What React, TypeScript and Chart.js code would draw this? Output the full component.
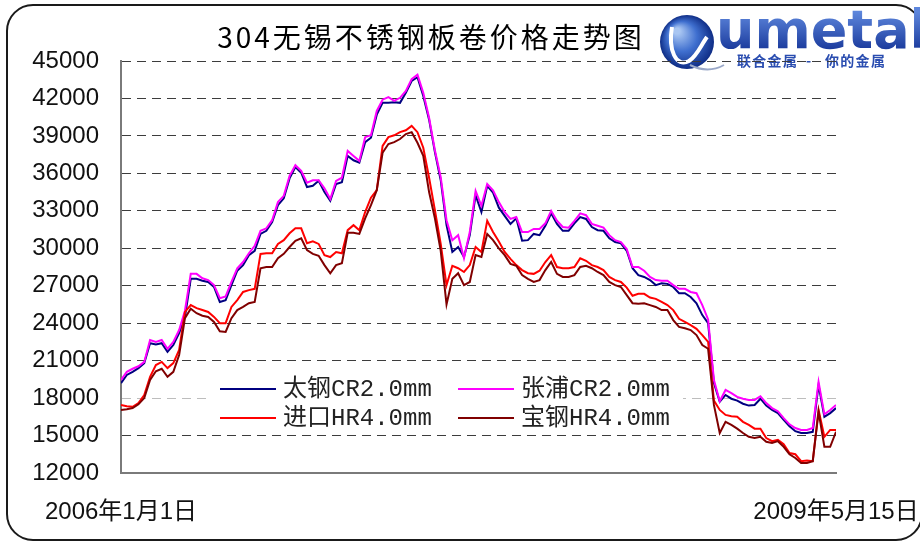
import React, { useEffect, useRef } from 'react';
import { Chart, registerables } from 'chart.js';

Chart.register(...registerables);

// x values: days since 2006-01-01 (sampled every 10 days, last = 2009-05-15)
const days = [
  0, 10, 20, 30, 40, 50, 60, 70, 80, 90, 100, 110, 120, 130, 140, 150, 160, 170, 180, 190,
  200, 210, 220, 230, 240, 250, 260, 270, 280, 290, 300, 310, 320, 330, 340, 350, 360, 370, 380, 390,
  400, 410, 420, 430, 440, 450, 460, 470, 480, 490, 500, 510, 520, 530, 540, 550, 560, 570, 580, 590,
  600, 610, 620, 630, 640, 650, 660, 670, 680, 690, 700, 710, 720, 730, 740, 750, 760, 770, 780, 790,
  800, 810, 820, 830, 840, 850, 860, 870, 880, 890, 900, 910, 920, 930, 940, 950, 960, 970, 980, 990,
  1000, 1010, 1020, 1030, 1040, 1050, 1060, 1070, 1080, 1090, 1100, 1110, 1120, 1130, 1140, 1150, 1160, 1170, 1180, 1190,
  1200, 1210, 1220, 1230,
];

const taigangCR = [
  19200, 19850, 20100, 20400, 20800, 22400, 22300, 22400, 21700, 22250,
  23200, 24500, 27550, 27550, 27400, 27300, 26900, 25700, 25850, 27050,
  28200, 28650, 29450, 29800, 31150, 31400, 32100, 33450, 34000, 35600,
  36500, 36050, 34900, 35000, 35400, 34500, 33800, 35150, 35300, 37400,
  37050, 36850, 38500, 38850, 40700, 41650, 41650, 41700, 41650, 42450,
  43400, 43700, 42200, 40300, 37700, 35450, 31850, 29700, 30100, 29300,
  31050, 34250, 32900, 35000, 34450, 33250, 32600, 31950, 32400, 30600,
  30650, 31150, 31050, 31800, 32800, 31950, 31400, 31400, 32000, 32500,
  32350, 31700, 31450, 31400, 30800, 30500, 30400, 29800, 28400, 27850,
  27700, 27450, 27050, 27200, 27150, 26900, 26400, 26400, 26100, 25600,
  24650, 24000, 19200, 17700, 18250, 17950, 17800, 17550, 17400, 17450,
  17950, 17400, 17050, 16800, 16250, 15750, 15350, 15200, 15200, 15300,
  19050, 16500, 16800, 17200,
];

const zhangpuCR = [
  19450, 20100, 20350, 20550, 20900, 22650, 22500, 22650, 21950, 22500,
  23450, 25000, 27950, 27950, 27600, 27450, 27050, 26000, 26150, 27300,
  28400, 28900, 29600, 30200, 31400, 31600, 32250, 33700, 34200, 35800,
  36650, 36200, 35250, 35450, 35450, 34800, 33950, 35400, 35650, 37800,
  37400, 37000, 38900, 39050, 41000, 41900, 42100, 41800, 42050, 42600,
  43550, 43900, 42450, 40450, 37850, 35700, 32250, 30650, 31050, 29200,
  31300, 34600, 33400, 35150, 34650, 33700, 32900, 32350, 32500, 31300,
  31300, 31550, 31550, 32000, 33000, 32200, 31700, 31650, 32200, 32800,
  32650, 31950, 31800, 31650, 31050, 30650, 30500, 29950, 28500, 28500,
  28200, 27700, 27450, 27400, 27400, 27050, 26750, 26750, 26500, 26400,
  25450, 24300, 19450, 17750, 18650, 18400, 18100, 17950, 17850, 17850,
  18150, 17600, 17200, 16950, 16400, 15900, 15600, 15450, 15450, 15600,
  19300, 16700, 17050, 17450,
];

const jinkouHR = [
  17450, 17350, 17300, 17600, 18250, 19700, 20650, 20900, 20400, 20800,
  21850, 24900, 25450, 25200, 25050, 24900, 24500, 24000, 24000, 25300,
  25850, 26500, 26650, 26750, 29550, 29600, 29600, 30350, 30650, 31200,
  31600, 31600, 30400, 30550, 30350, 29450, 29300, 29700, 29600, 31450,
  31850, 31450, 32900, 34050, 34650, 38200, 38900, 39050, 39300, 39450,
  39800, 39300, 38050, 35650, 33050, 30350, 27050, 28600, 28400, 28100,
  28650, 30100, 29700, 32200, 31300, 30550, 29700, 29150, 28650, 28250,
  28000, 27950, 28200, 28900, 29450, 28500, 28400, 28400, 28500, 29200,
  29000, 28650, 28500, 28250, 27700, 27450, 27300, 26850, 26200, 26350,
  26350, 26050, 25950, 25700, 25450, 25050, 24350, 24100, 23850, 23550,
  23050, 22500, 17800, 17050, 16650, 16550, 16500, 16100, 15850, 15550,
  15550, 14800, 14550, 14650, 14300, 13600, 13500, 12950, 13000, 12950,
  17050, 14900, 15450, 15450,
];

const baogangHR = [
  17050, 17100, 17200, 17500, 18000, 19450, 20150, 20350, 19700, 20100,
  21450, 24400, 25150, 24800, 24600, 24500, 24100, 23350, 23300, 24400,
  25050, 25300, 25600, 25700, 28400, 28500, 28500, 29200, 29550, 30100,
  30600, 30800, 29850, 29550, 29400, 28650, 28000, 28650, 28800, 31250,
  31250, 31150, 32400, 33450, 34650, 37650, 38350, 38500, 38750, 39150,
  39300, 38450, 37400, 34500, 32400, 29800, 25500, 27550, 28000, 27050,
  27300, 29450, 29300, 31150, 30650, 30000, 29450, 28750, 28600, 27850,
  27550, 27300, 27450, 28250, 28900, 27950, 27700, 27700, 27850, 28500,
  28600, 28400, 28100, 27850, 27300, 27050, 26900, 26250, 25600, 25550,
  25600, 25450, 25300, 25050, 25050, 24250, 23700, 23600, 23450, 23050,
  22250, 21950, 17450, 15200, 16100, 15850, 15550, 15200, 14900, 14800,
  14900, 14500, 14400, 14550, 14100, 13500, 13200, 12800, 12800, 12950,
  16900, 14100, 14100, 15300,
];

const seriesNames = ['太钢CR2.0mm', '张浦CR2.0mm', '进口HR4.0mm', '宝钢HR4.0mm'];
const seriesColors = ['#000080', '#FF00FF', '#FF0000', '#800000'];
const xTickDays = [0, 1230];
const xTickLabels = ['2006年1月1日', '2009年5月15日'];
const yMin = 12000;
const yMax = 45000;
const yStep = 3000;
const chartTitle = '304无锡不锈钢板卷价格走势图';

const decorPlugin = {
  id: 'decor',
  beforeDraw(chart: any) {
    const ctx = chart.ctx as CanvasRenderingContext2D;
    ctx.save();
    ctx.fillStyle = '#ffffff';
    ctx.fillRect(0, 0, chart.width, chart.height);
    // frame
    ctx.beginPath();
    (ctx as any).roundRect(7, 5, 915, 535, 26);
    ctx.lineWidth = 2;
    ctx.strokeStyle = '#1a1a1a';
    ctx.stroke();
    // title
    ctx.font = '28px "Noto Sans CJK SC"';
    (ctx as any).letterSpacing = '3px';
    ctx.textAlign = 'center';
    ctx.textBaseline = 'middle';
    ctx.fillStyle = '#000000';
    ctx.fillText(chartTitle, 431, 37);
    (ctx as any).letterSpacing = '0px';
    // logo sphere
    const g = ctx.createRadialGradient(677, 31, 3, 687, 42, 27);
    g.addColorStop(0, '#a9c6f2');
    g.addColorStop(0.5, '#3f6fcf');
    g.addColorStop(1, '#0f2d86');
    ctx.beginPath();
    ctx.arc(687, 42, 27, 0, Math.PI * 2);
    ctx.fillStyle = g;
    ctx.fill();
    ctx.beginPath();
    ctx.moveTo(672, 27);
    ctx.bezierCurveTo(668, 50, 676, 68, 689, 61);
    ctx.bezierCurveTo(697, 56, 701, 45, 707, 37);
    ctx.lineWidth = 4;
    ctx.strokeStyle = '#ffffff';
    ctx.stroke();
    ctx.beginPath();
    ctx.moveTo(690, 65);
    ctx.quadraticCurveTo(708, 74, 724, 65);
    ctx.lineWidth = 2;
    ctx.strokeStyle = '#9aa8c8';
    ctx.stroke();
    // logo text
    const tg = ctx.createLinearGradient(0, 12, 0, 50);
    tg.addColorStop(0, '#5d86dc');
    tg.addColorStop(1, '#1a3a9c');
    ctx.font = 'bold 54px "DejaVu Sans"';
    ctx.textAlign = 'left';
    ctx.textBaseline = 'alphabetic';
    ctx.fillStyle = tg;
    ctx.fillText('umetal', 716, 48);
    ctx.font = 'bold 14px "Noto Sans CJK SC"';
    ctx.textBaseline = 'middle';
    ctx.fillStyle = '#2a4db0';
    (ctx as any).letterSpacing = '1.3px';
    ctx.fillText('联合金属', 737, 61);
    ctx.fillText('-', 806, 61);
    ctx.fillText('你的金属', 825, 61);
    ctx.restore();
  },
  afterDraw(chart: any) {
    const ctx = chart.ctx as CanvasRenderingContext2D;
    const pos = [
      [220, 389],
      [458, 389],
      [220, 418],
      [458, 418],
    ];
    ctx.save();
    ctx.fillStyle = '#ffffff';
    ctx.fillRect(207, 373, 476, 58);
    ctx.font = '24px "Liberation Mono", "Noto Sans CJK SC"';
    ctx.textAlign = 'left';
    ctx.textBaseline = 'middle';
    chart.data.datasets.forEach((ds: any, i: number) => {
      const [x, y] = pos[i];
      ctx.beginPath();
      ctx.moveTo(x, y);
      ctx.lineTo(x + 56, y);
      ctx.lineWidth = 2;
      ctx.strokeStyle = ds.borderColor;
      ctx.stroke();
      ctx.fillStyle = '#222222';
      ctx.fillText(ds.label, x + 63, y + 1);
    });
    ctx.restore();
  },
};

export default function App() {
  const canvasRef = useRef<HTMLCanvasElement | null>(null);

  useEffect(() => {
    if (!canvasRef.current) return;
    const seriesData = [taigangCR, zhangpuCR, jinkouHR, baogangHR];
    const orders = [3, 2, 1, 0];
    const chart = new Chart(canvasRef.current, {
      type: 'line',
      data: {
        datasets: seriesData.map((vals, i) => ({
          label: seriesNames[i],
          data: vals.map((v, j) => ({ x: days[j], y: v })),
          borderColor: seriesColors[i],
          backgroundColor: seriesColors[i],
          borderWidth: 2,
          pointRadius: 0,
          tension: 0,
          fill: false,
          order: orders[i],
        })),
      },
      options: {
        responsive: false,
        animation: false,
        devicePixelRatio: 1,
        layout: { padding: { left: 0, top: 61, right: 84, bottom: 0 } },
        plugins: {
          legend: { display: false },
          tooltip: { enabled: false },
          title: { display: false },
        },
        scales: {
          x: {
            type: 'linear',
            min: xTickDays[0],
            max: xTickDays[1],
            afterBuildTicks: (scale: any) => {
              scale.ticks = xTickDays.map((v) => ({ value: v }));
            },
            afterFit: (scale: any) => {
              scale.height = 68;
              scale.paddingLeft = 0;
              scale.paddingRight = 0;
            },
            grid: { display: false, drawTicks: false },
            border: { display: true, color: '#7a7a7a', width: 2 },
            ticks: {
              autoSkip: false,
              maxRotation: 0,
              minRotation: 0,
              padding: 25,
              color: '#111111',
              font: { family: '"Liberation Sans", "Noto Sans CJK SC"', size: 24 },
              callback: (v: any) => {
                const idx = xTickDays.indexOf(Number(v));
                return idx >= 0 ? xTickLabels[idx] : '';
              },
            },
          },
          y: {
            min: yMin,
            max: yMax,
            afterFit: (scale: any) => {
              scale.width = 121;
            },
            grid: {
              drawTicks: false,
              color: (c: any) => (c.tick && c.tick.value === 18000 ? '#bdbdbd' : '#3c3c3c'),
              lineWidth: 1,
            },
            border: { display: true, color: '#7a7a7a', width: 2, dash: [9, 6] },
            ticks: {
              stepSize: yStep,
              padding: 22,
              color: '#111111',
              font: { family: '"Liberation Sans"', size: 24 },
              callback: (v: any) => String(v),
            },
          },
        },
      },
      plugins: [decorPlugin],
    });
    return () => chart.destroy();
  }, []);

  return (
    <div style={{ position: 'fixed', left: 0, top: 0, width: 920, height: 541, background: '#fff' }}>
      <canvas ref={canvasRef} width={920} height={541} />
    </div>
  );
}
